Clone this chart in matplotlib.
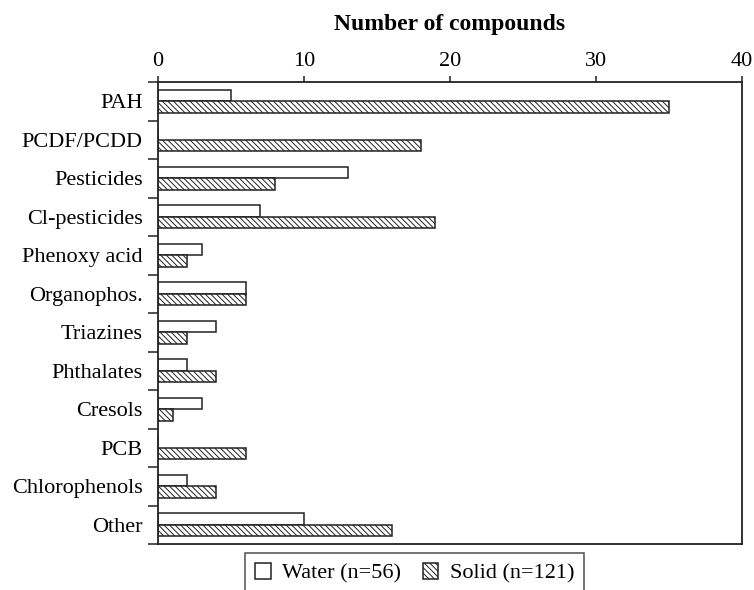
import numpy as np
import matplotlib
matplotlib.use("Agg")
import matplotlib.pyplot as plt

plt.rcParams['font.family'] = ['Liberation Serif', 'DejaVu Serif']
plt.rcParams['hatch.linewidth'] = 0.7
plt.rcParams['hatch.color'] = '#333333'

categories = ["PAH", "PCDF/PCDD", "Pesticides", "Cl-pesticides", "Phenoxy acid",
              "Organophos.", "Triazines", "Phthalates", "Cresols", "PCB",
              "Chlorophenols", "Other"]
water = [5, 0, 13, 7, 3, 6, 4, 2, 3, 0, 2, 10]
solid = [35, 18, 8, 19, 2, 6, 2, 4, 1, 6, 4, 16]
x_ticks = [0, 10, 20, 30, 40]

fs = 16

fig = plt.figure(figsize=(7.54, 5.9), dpi=100)
ax = fig.add_axes([158 / 754, 1 - 544 / 590, 584 / 754, 462 / 590])

y = np.arange(len(categories))
h = 0.3
ax.barh(y - h / 2, water, height=h, color='white', edgecolor='#222222',
        linewidth=1.1, label='Water (n=56)')
ax.barh(y + h / 2, solid, height=h, color='white', edgecolor='#222222',
        linewidth=1.1, hatch='\\\\\\\\\\\\', label='Solid (n=121)')

ax.set_xlim(0, 40)
ax.set_ylim(len(categories) - 0.5, -0.5)
ax.xaxis.tick_top()
ax.xaxis.set_label_position('top')
ax.set_xticks(x_ticks)
ax.set_xlabel('Number of compounds', fontsize=17, fontweight='bold', labelpad=16)
ax.tick_params(axis='x', direction='out', length=4, width=1.1, labelsize=fs,
               pad=4, color='#222222')

# category labels at centres, tick marks at the boundaries
ax.set_yticks(y)
ax.set_yticklabels(categories, fontsize=fs)
ax.tick_params(axis='y', which='major', length=0, pad=11)
ax.set_yticks(np.arange(len(categories) + 1) - 0.5, minor=True)
ax.tick_params(axis='y', which='minor', direction='out', length=7, width=1.1,
               color='#222222')

for s in ax.spines.values():
    s.set_linewidth(1.3)
    s.set_color('#222222')

fig.legend(loc='upper left', bbox_to_anchor=(245 / 754, 1 - 553 / 590), ncol=2,
           fontsize=fs, frameon=True, fancybox=False, edgecolor='#222222',
           handlelength=0.7, handleheight=0.7, handletextpad=0.5,
           columnspacing=1.0, borderpad=0.45, borderaxespad=0)
leg = fig.legends[0]
leg.get_frame().set_linewidth(1.1)

fig.savefig('out.png', dpi=100)
